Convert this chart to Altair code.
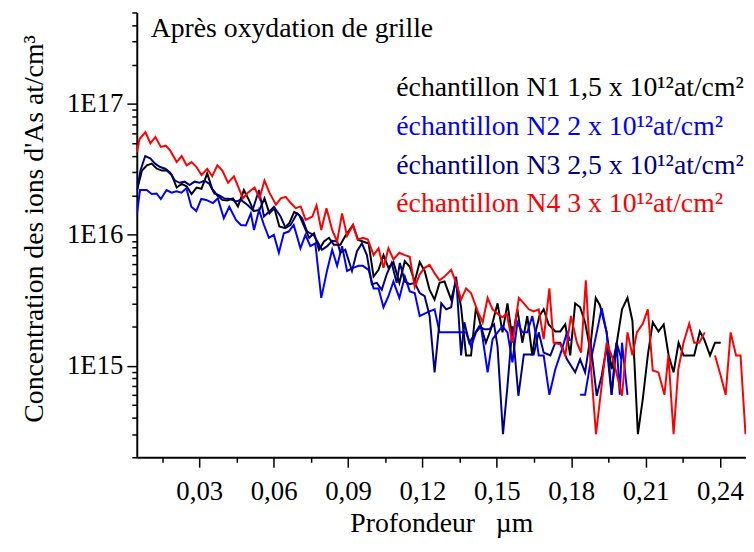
import altair as alt
import pandas as pd

FONT = "Liberation Serif"

series_names = ["N1", "N2", "N3", "N4"]
series_colors = ["#000000", "#0000ff", "#000080", "#ff0000"]
legend_labels = [
    "échantillon N1 1,5 x 10¹²at/cm²",
    "échantillon N2 2 x 10¹²at/cm²",
    "échantillon N3 2,5 x 10¹²at/cm²",
    "échantillon N4 3 x 10¹²at/cm²",
]
annotation = "Après oxydation de grille"
x_title = "Profondeur\u00a0\u00a0 µm"
y_title = "Concentration des ions d'As at/cm³"

# (profondeur µm, concentration at/cm3); None = missing point (gap)
n1 = [(0.0049,2.2e16),(0.0069,3.1e16),(0.0089,3.4e16),(0.0108,3.5e16),(0.0129,3.2e16),(0.0149,3.1e16),
      (0.0169,3.1e16),(0.0189,2.86e16),(0.0209,2.3e16),(0.0229,2.45e16),(0.0249,2.35e16),(0.0269,2.05e16),
      (0.0289,2.3e16),(0.0309,2.25e16),(0.0332,2.95e16),(0.0352,2.25e16),(0.0373,2.0e16),(0.0393,1.85e16),
      (0.0413,1.83e16),(0.0436,1.9e16),(0.0456,1.65e16),(0.0480,2.2e16),(0.0500,1.85e16),(0.0520,1.52e16),
      (0.0543,1.55e16),(0.0563,1.9e16),(0.0583,1.46e16),(0.0603,1.6e16),(0.0623,1.16e16),(0.0643,1.13e16),
      (0.0663,1.23e16),(0.0683,1.5e16),(0.0703,1.42e16),(0.0723,1.16e16),(0.0743,9.5e15),(0.0763,1.03e16),
      (0.0783,7.7e15),(0.0803,8.9e15),(0.0823,9.5e15),(0.0843,8.4e15),(0.0869,8.4e15),(0.0890,9.9e15),
      (0.0920,1.19e16),(0.0940,9.2e15),(0.0960,8.9e15),(0.0983,8.6e15),(0.1003,4.8e15),(0.1023,5.4e15),
      (0.1043,7.0e15),(0.1063,5.6e15),(0.1083,6.2e15),(0.1107,4.3e15),(0.1129,6.3e15),(0.1149,5.7e15),
      (0.1169,4.4e15),(0.1189,6.2e15),(0.1209,5.3e15),(0.1229,3.8e15),(0.1249,3.2e15),(0.1269,4.3e15),
      (0.1289,4.4e15),(0.1316,3.2e15),(0.1336,4.5e15),(0.1356,2.8e15),(0.1376,1.2e15),(0.1396,1.2e15),
      (0.1416,2.8e15),(0.1436,2.0e15),(0.1456,1.5e15),(0.1476,1.9e15),(0.1503,3.0e15),(0.1523,1.8e15),
      (0.1543,3.0e15),(0.1563,1.6e15),(0.1583,2.7e15),(0.1603,1.5e15),(0.1623,2.4e15),(0.1643,1.2e15),
      (0.1656,1.8e15),(0.1672,2.4e15),(0.1689,2.7e15),(0.1709,2.07e15),(0.1736,1.83e15),(0.1756,1.83e15),
      (0.1776,2.07e15),(0.1796,1.2e15),(0.1816,3.0e15),(0.1836,2.8e15),(0.1856,2.15e15),(0.1876,1.34e15),
      (0.1899,3.3e15),(0.1916,2.9e15),(0.1943,1.8e15),(0.1963,9.4e14),(0.1983,1.46e15),(0.2005,2.7e15),
      (0.2027,3.3e15),(0.2047,2.2e15),(0.2069,3.0e14),(0.2089,5.6e14),(0.2109,1.2e15),(0.2129,2.15e15),
      (0.2152,1.83e15),(0.2173,2.07e15),(0.2193,1.2e15),(0.2213,8.9e14),(0.2233,1.5e15),(0.2253,1.2e15),
      (0.2276,1.2e15),(0.2296,1.2e15),(0.2319,1.83e15),(0.2336,1.6e15),(0.2360,1.2e15),(0.2380,1.5e15),
      (0.2403,1.5e15)]

n2 = [(0.0049,1.46e16),(0.0061,2.2e16),(0.0088,2.2e16),(0.0108,2.05e16),(0.0128,2.07e16),(0.0145,1.88e16),
      (0.0168,2.2e16),(0.0188,2.1e16),(0.0208,2.15e16),(0.0228,2.1e16),(0.0248,2.27e16),(0.0268,1.64e16),
      (0.0288,1.52e16),(0.0308,1.88e16),(0.0328,1.85e16),(0.0355,1.75e16),(0.0375,1.9e16),(0.0399,1.34e16),
      (0.0421,1.64e16),(0.0448,1.3e16),(0.0468,1.19e16),(0.0488,1.18e16),(0.0508,1.46e16),(0.0521,1.09e16),
      (0.0541,1.55e16),(0.0561,1.19e16),(0.0581,9.5e15),(0.0601,1.0e16),(0.0621,7.3e15),(0.0641,1.03e16),
      (0.0661,1.06e16),(0.0681,1.19e16),(0.0708,7.9e15),(0.0728,1.0e16),(0.0748,8.2e15),(0.0768,8.6e15),
      (0.0792,3.3e15),(0.0816,5.4e15),(0.0836,7.7e15),(0.0856,5.8e15),(0.0876,8.2e15),(0.0896,5.3e15),
      (0.0920,5.6e15),(0.0943,5.8e15),(0.0960,5.8e15),(0.0983,5.4e15),(0.1003,3.9e15),(0.1023,3.9e15),
      (0.1043,2.8e15),(0.1063,3.4e15),(0.1083,4.4e15),(0.1107,3.3e15),(0.1129,4.8e15),(0.1149,3.7e15),
      (0.1169,3.6e15),(0.1189,2.4e15),(0.1209,2.5e15),(0.1229,2.6e15),(0.1249,2.7e15),(0.1269,1.8e15),
      (0.1289,1.8e15),(0.1316,1.8e15),(0.1336,1.8e15),(0.1356,1.8e15),(0.1376,1.8e15),(0.1396,1.4e15),
      (0.1416,1.8e15),(0.1436,2.0e15),(0.1463,8.9e14),(0.1483,1.6e15),(0.1503,1.8e15),(0.1523,2.0e15),
      (0.1543,1.8e15),(0.1563,1.06e15),(0.1583,2.15e15),(0.1603,1.8e15),(0.1623,1.8e15),(0.1643,2.4e15),
      (0.1656,1.8e15),(0.1669,1.2e15),(0.1689,1.2e15),(0.1712,6.0e14),(0.1736,9.4e14),(0.1763,1.34e15),
      (0.1783,1.8e15),(0.1796,1.55e15),(0.1816,None),(0.1836,6.0e14),(0.1856,6.0e14),(0.1880,1.12e15),
      (0.1903,1.8e15),(0.1923,2.75e15),(0.1943,1.8e15),(0.1963,6.0e14),(0.1983,1.5e15),(0.1996,6.0e14),
      (0.2005,1.5e15),(0.2027,6.0e14)]

n3 = [(0.0049,2.2e16),(0.0063,3.1e16),(0.0082,4.0e16),(0.0102,3.85e16),(0.0122,3.5e16),(0.0142,3.3e16),
      (0.0163,3.2e16),(0.0182,3.0e16),(0.0202,2.6e16),(0.0221,2.5e16),(0.0241,2.55e16),(0.0261,2.4e16),
      (0.0281,2.55e16),(0.0301,2.5e16),(0.0321,2.6e16),(0.0341,2.45e16),(0.0361,2.07e16),(0.0381,2.0e16),
      (0.0401,1.9e16),(0.0424,1.88e16),(0.0448,1.8e16),(0.0468,1.85e16),(0.0495,1.69e16),(0.0515,1.55e16),
      (0.0541,2.2e16),(0.0561,1.38e16),(0.0581,1.5e16),(0.0601,1.64e16),(0.0628,1.38e16),(0.0648,1.13e16),
      (0.0668,1.19e16),(0.0695,1.46e16),(0.0715,1.34e16),(0.0735,1.06e16),(0.0761,1.0e16),(0.0778,8.8e15),
      (0.0795,7.7e15),(0.0816,8.2e15),(0.0836,9.0e15),(0.0856,8.9e15),(0.0869,7.3e15),(0.0889,7.7e15),
      (0.0916,5.3e15),(0.0936,7.5e15),(0.0956,8.6e15),(0.0976,7.0e15),(0.0996,4.2e15),(0.1016,4.3e15),
      (0.1036,3.8e15),(0.1056,5.0e15),(0.1076,6.1e15),(0.1096,4.3e15),(0.1109,6.1e15),(0.1129,4.4e15),
      (0.1149,4.2e15),(0.1169,4.3e15),(0.1189,3.6e15),(0.1209,3.4e15),(0.1229,2.4e15),(0.1249,8.9e14),
      (0.1276,3.0e15),(0.1296,2.7e15),(0.1316,2.8e15),(0.1336,4.8e15),(0.1356,1.2e15),(0.1369,2.15e15),
      (0.1389,1.5e15),(0.1410,1.74e15),(0.1429,2.0e15),(0.1450,1.9e15),(0.1470,1.9e15),(0.1489,2.07e15),
      (0.1503,1.4e15),(0.1525,3.0e14),(0.1543,7.0e14),(0.1563,2.0e15),(0.1587,5.9e14),(0.1609,1.22e15),
      (0.1629,1.22e15),(0.1649,1.22e15),(0.1669,1.8e15),(0.1689,1.26e15),(0.1716,1.2e15),(0.1736,1.5e15),
      (0.1756,1.5e15),(0.1783,1.12e15),(0.1816,8.9e14),(0.1836,1.12e15),(0.1856,8.9e14),(0.1876,1.6e15),
      (0.1903,5.9e14),(0.1923,8.4e14),(0.1943,1.4e15),(0.1963,6.0e14),(0.1983,1.5e15),(0.2003,1.12e15)]

n4 = [(0.0049,4.3e16),(0.0059,5.4e16),(0.0083,6.1e16),(0.0103,5.0e16),(0.0123,5.6e16),(0.0145,4.7e16),
      (0.0165,4.8e16),(0.0183,4.4e16),(0.0209,3.6e16),(0.0229,4.0e16),(0.0249,3.4e16),(0.0269,3.6e16),
      (0.0289,3.3e16),(0.0309,2.86e16),(0.0332,3.2e16),(0.0352,2.8e16),(0.0373,3.4e16),(0.0393,3.1e16),
      (0.0416,2.5e16),(0.0440,2.8e16),(0.0476,1.9e16),(0.0496,2.1e16),(0.0523,2.3e16),(0.0543,1.9e16),
      (0.0563,2.6e16),(0.0583,2.1e16),(0.0609,1.7e16),(0.0629,1.9e16),(0.0649,1.95e16),(0.0669,1.75e16),
      (0.0689,1.6e16),(0.0709,1.65e16),(0.0729,1.3e16),(0.0756,1.38e16),(0.0773,1.68e16),(0.0792,1.09e16),
      (0.0813,1.6e16),(0.0836,1.09e16),(0.0856,8.9e15),(0.0876,1.46e16),(0.0896,9.8e15),(0.0920,1.19e16),
      (0.0939,9.2e15),(0.0960,9.5e15),(0.0980,9.2e15),(0.1003,7.0e15),(0.1023,7.9e15),(0.1043,5.6e15),
      (0.1063,7.9e15),(0.1083,6.5e15),(0.1107,7.3e15),(0.1129,7.0e15),(0.1149,6.8e15),(0.1169,4.0e15),
      (0.1189,5.0e15),(0.1209,5.6e15),(0.1229,5.9e15),(0.1249,5.1e15),(0.1269,4.5e15),(0.1289,4.8e15),
      (0.1316,5.4e15),(0.1336,4.3e15),(0.1356,3.2e15),(0.1376,3.9e15),(0.1396,3.6e15),(0.1423,2.6e15),
      (0.1443,2.15e15),(0.1463,3.3e15),(0.1483,2.7e15),(0.1503,2.5e15),(0.1523,2.35e15),(0.1540,2.5e15),
      (0.1563,1.5e15),(0.1589,3.3e15),(0.1609,3.0e15),(0.1629,2.7e15),(0.1649,2.6e15),(0.1669,2.7e15),
      (0.1689,1.6e15),(0.1712,3.9e15),(0.1729,1.5e15),(0.1756,1.46e15),(0.1776,1.2e15),(0.1799,2.4e15),
      (0.1823,1.5e15),(0.1840,1.26e15),(0.1859,4.5e15),(0.1876,1.2e15),(0.1900,3.0e14),(0.1943,1.5e15),
      (0.1969,1.12e15),(0.2005,5.9e14),(0.2027,1.8e15),(0.2047,1.2e15),(0.2065,1.8e15),(0.2089,2.1e15),
      (0.2109,2.7e15),(0.2129,9.2e14),(0.2152,8.9e14),(0.2176,6.0e14),(0.2192,1.2e15),(0.2213,3.0e14),
      (0.2232,9.4e14),(0.2253,1.5e15),(0.2276,2.1e15),(0.2296,1.5e15),(0.2316,1.5e15),(0.2339,1.8e15),
      (0.2360,None),(0.2380,1.2e15),(0.2403,8.4e14),(0.2423,6.0e14),(0.2443,1.8e15),(0.2465,1.2e15),
      (0.2483,1.2e15),(0.2503,3.0e14)]

x_tick_values = [0.015, 0.03, 0.045, 0.06, 0.075, 0.09, 0.105, 0.12, 0.135,
                 0.15, 0.165, 0.18, 0.195, 0.21, 0.225, 0.24]
y_tick_values = [2e14, 3e14, 4e14, 5e14, 6e14, 7e14, 8e14, 9e14,
                 1e15, 2e15, 3e15, 4e15, 5e15, 6e15, 7e15, 8e15, 9e15,
                 1e16, 2e16, 3e16, 4e16, 5e16, 6e16, 7e16, 8e16, 9e16,
                 1e17, 2e17, 3e17, 4e17, 5e17]

rows = []
for name, pts in zip(series_names, [n1, n2, n3, n4]):
    seg = 0
    for x, y in pts:
        if y is None:
            seg += 1
            continue
        rows.append({"series": name, "seg": f"{name}-{seg}", "x": x, "y": y})
df = pd.DataFrame(rows)

major_x = "abs(datum.value / 0.03 - round(datum.value / 0.03)) < 0.001"
major_y = "abs(log(datum.value) / LN10 - round(log(datum.value) / LN10)) < 0.001"

x_axis = alt.Axis(
    values=x_tick_values,
    labelExpr=f"({major_x}) ? replace(format(datum.value, '.2f'), '.', ',') : ''",
    tickSize={"condition": {"test": major_x, "value": 10}, "value": 5},
    labelOverlap=False,
    labelPadding=12,
    titlePadding=5,
    grid=False,
)
y_axis = alt.Axis(
    values=y_tick_values,
    labelExpr=f"({major_y}) ? '1E' + round(log(datum.value) / LN10) : ''",
    tickSize={"condition": {"test": major_y, "value": 10}, "value": 5},
    labelOverlap=False,
    labelPadding=4,
    titlePadding=18,
    titleY=218,
    grid=False,
)

lines = alt.Chart(df).mark_line(strokeWidth=2, clip=True).encode(
    x=alt.X("x:Q", title=x_title, axis=x_axis,
            scale=alt.Scale(domain=[0.0048, 0.2505], nice=False, zero=False)),
    y=alt.Y("y:Q", title=y_title, axis=y_axis,
            scale=alt.Scale(type="log", domain=[2e14, 5e17], nice=False)),
    color=alt.Color("series:N", legend=None,
                    scale=alt.Scale(domain=series_names, range=series_colors)),
    detail="seg:N",
)

title_txt = alt.Chart(alt.Data(values=[{"t": annotation}])).mark_text(
    align="left", baseline="alphabetic", font=FONT, fontSize=28, color="#000000"
).encode(x=alt.value(14), y=alt.value(25), text="t:N")

LEG_X = 262
LEG_Y0 = 84
LEG_DY = 39.3
legend_layers = []
for i, (lab, col) in enumerate(zip(legend_labels, series_colors)):
    legend_layers.append(
        alt.Chart(alt.Data(values=[{"t": lab}])).mark_text(
            align="left", baseline="alphabetic", font=FONT, fontSize=28, color=col
        ).encode(x=alt.value(LEG_X), y=alt.value(LEG_Y0 + i * LEG_DY), text="t:N")
    )

chart = alt.layer(lines, title_txt, *legend_layers).properties(
    width=615,
    height=449,
    autosize=alt.AutoSizeParams(type="none"),
    padding={"left": 130, "top": 2, "right": 0, "bottom": 82},
    background="white",
).configure_view(stroke=None).configure_axis(
    domainColor="#000000",
    domainWidth=2,
    tickColor="#000000",
    tickWidth=1.5,
    labelColor="#000000",
    labelFont=FONT,
    labelFontSize=27,
    titleFont=FONT,
    titleFontSize=28,
    titleFontWeight="normal",
    titleColor="#000000",
)

chart.save("out.html", embed_options={"renderer": "svg", "actions": False})
